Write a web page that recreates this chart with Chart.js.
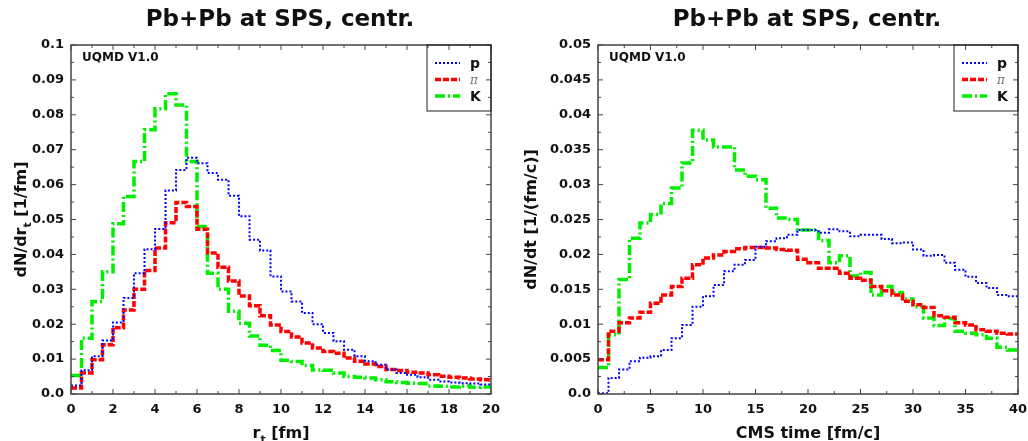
<!DOCTYPE html>
<html>
<head>
<meta charset="utf-8">
<script src="https://cdn.jsdelivr.net/npm/chart.js@4"></script>
<style>
  body { margin: 0; background: #fff; }
  .wrap { position: relative; width: 1028px; height: 441px; }
  canvas { position: absolute; top: 0; }
</style>
</head>
<body>
<div class="wrap">
  <canvas id="left" width="514" height="441" style="left:0;width:514px;height:441px"></canvas>
  <canvas id="right" width="514" height="441" style="left:514px;width:514px;height:441px"></canvas>
</div>
<script>
// left panel: transverse radius, 0.5 fm bins
const rBins = Array.from({ length: 40 }, (_, i) => i * 0.5);
const rProton = [0.0024, 0.0068, 0.0108, 0.0153, 0.0205, 0.0275, 0.0346, 0.0415, 0.0473, 0.0583,
  0.0642, 0.0677, 0.0661, 0.0633, 0.0614, 0.0568, 0.0509, 0.0442, 0.0411, 0.0337,
  0.0294, 0.0265, 0.0232, 0.0200, 0.0175, 0.0151, 0.0127, 0.0108, 0.0094, 0.0084,
  0.0070, 0.0060, 0.0055, 0.0048, 0.0041, 0.0036, 0.0033, 0.0031, 0.0030, 0.0027];
const rPion = [0.0017, 0.0060, 0.0098, 0.0141, 0.0190, 0.0241, 0.0300, 0.0354, 0.0418, 0.0491,
  0.0549, 0.0537, 0.0472, 0.0404, 0.0363, 0.0324, 0.0281, 0.0253, 0.0224, 0.0198,
  0.0179, 0.0163, 0.0146, 0.0132, 0.0122, 0.0117, 0.0103, 0.0094, 0.0086, 0.0079,
  0.0070, 0.0067, 0.0062, 0.0060, 0.0055, 0.0051, 0.0048, 0.0046, 0.0043, 0.0041];
const rKaon = [0.0053, 0.0160, 0.0265, 0.0350, 0.0488, 0.0566, 0.0666, 0.0757, 0.0817, 0.0860,
  0.0828, 0.0666, 0.0480, 0.0346, 0.0300, 0.0237, 0.0203, 0.0166, 0.0140, 0.0125,
  0.0097, 0.0093, 0.0082, 0.0069, 0.0068, 0.0060, 0.0050, 0.0048, 0.0046, 0.0041,
  0.0035, 0.0033, 0.0031, 0.0030, 0.0023, 0.0022, 0.0020, 0.0023, 0.0019, 0.0020];

// right panel: CMS time, 1 fm/c bins
const tBins = Array.from({ length: 40 }, (_, i) => i);
const tProton = [0.0001, 0.0023, 0.0035, 0.0047, 0.0052, 0.0054, 0.0063, 0.0080, 0.0099, 0.0125,
  0.0140, 0.0156, 0.0176, 0.0185, 0.0192, 0.0211, 0.0219, 0.0223, 0.0228, 0.0235,
  0.0235, 0.0231, 0.0236, 0.0233, 0.0226, 0.0228, 0.0228, 0.0222, 0.0216, 0.0217,
  0.0207, 0.0198, 0.0199, 0.0188, 0.0178, 0.0168, 0.0159, 0.0152, 0.0142, 0.0140];
const tPion = [0.0049, 0.0090, 0.0102, 0.0109, 0.0117, 0.0130, 0.0142, 0.0154, 0.0166, 0.0185,
  0.0195, 0.0199, 0.0204, 0.0208, 0.0210, 0.0210, 0.0209, 0.0207, 0.0206, 0.0193,
  0.0188, 0.0180, 0.0180, 0.0173, 0.0166, 0.0163, 0.0154, 0.0148, 0.0142, 0.0133,
  0.0128, 0.0124, 0.0112, 0.0110, 0.0102, 0.0099, 0.0092, 0.0090, 0.0087, 0.0086];
const tKaon = [0.0038, 0.0085, 0.0164, 0.0223, 0.0245, 0.0257, 0.0273, 0.0295, 0.0331, 0.0378,
  0.0364, 0.0354, 0.0354, 0.0321, 0.0312, 0.0307, 0.0266, 0.0252, 0.0250, 0.0235,
  0.0235, 0.0220, 0.0188, 0.0198, 0.0169, 0.0174, 0.0142, 0.0154, 0.0145, 0.0136,
  0.0125, 0.0109, 0.0098, 0.0108, 0.0090, 0.0087, 0.0085, 0.0080, 0.0067, 0.0063];

const FONT = 'DejaVu Sans';

// histogram as step line: left edges + closing point at the last right edge
function steps(bins, vals, width) {
  const pts = vals.map((v, i) => ({ x: bins[i], y: v }));
  pts.push({ x: bins[bins.length - 1] + width, y: vals[vals.length - 1] });
  return pts;
}

function seriesFor(bins, p, pi, k, w) {
  return [
    { label: 'p', data: steps(bins, p, w), borderColor: '#0000ff', borderWidth: 2, borderDash: [2, 2] },
    { label: 'π', data: steps(bins, pi, w), borderColor: '#ff0000', borderWidth: 3.5, borderDash: [6, 2] },
    { label: 'K', data: steps(bins, k, w), borderColor: '#00ee00', borderWidth: 3.5, borderDash: [10, 3, 2, 3] },
  ];
}

// text with optional subscript parts
function richWidth(ctx, parts, size) {
  let w = 0;
  parts.forEach(p => {
    ctx.font = 'bold ' + (p.sub ? Math.round(size * 0.7) : size) + 'px ' + FONT;
    w += ctx.measureText(p.t).width;
  });
  return w;
}
function drawRich(ctx, parts, size) {
  let x = -richWidth(ctx, parts, size) / 2;
  ctx.textBaseline = 'alphabetic';
  ctx.textAlign = 'left';
  parts.forEach(p => {
    ctx.font = 'bold ' + (p.sub ? Math.round(size * 0.7) : size) + 'px ' + FONT;
    ctx.fillText(p.t, x, p.sub ? size * 0.3 : 0);
    x += ctx.measureText(p.t).width;
  });
}

const decor = {
  id: 'decor',
  afterDatasetsDraw(chart, args, opts) {
    const { ctx, chartArea: a, scales } = chart;
    const xs = scales.x, ys = scales.y;
    ctx.save();
    ctx.strokeStyle = '#444';
    ctx.lineWidth = 1.5;
    ctx.strokeRect(a.left, a.top, a.right - a.left, a.bottom - a.top);

    // inside ticks on all four sides
    ctx.lineWidth = 1;
    ctx.beginPath();
    for (let v = xs.min; v <= xs.max + 1e-9; v += opts.xMinor) {
      const px = xs.getPixelForValue(v);
      const major = Math.abs(v / opts.xMajor - Math.round(v / opts.xMajor)) < 1e-6;
      const len = major ? 5 : 3;
      ctx.moveTo(px, a.bottom); ctx.lineTo(px, a.bottom - len);
      ctx.moveTo(px, a.top); ctx.lineTo(px, a.top + len);
    }
    for (let v = ys.min; v <= ys.max + 1e-9; v += opts.yMinor) {
      const py = ys.getPixelForValue(v);
      const major = Math.abs(v / opts.yMajor - Math.round(v / opts.yMajor)) < 1e-6;
      const len = major ? 5 : 3;
      ctx.moveTo(a.left, py); ctx.lineTo(a.left + len, py);
      ctx.moveTo(a.right, py); ctx.lineTo(a.right - len, py);
    }
    ctx.stroke();

    ctx.fillStyle = '#111';
    // main title
    ctx.font = 'bold 23px ' + FONT;
    ctx.textAlign = 'center';
    ctx.textBaseline = 'middle';
    ctx.fillText('Pb+Pb at SPS, centr.', (a.left + a.right) / 2 - 1, 20);

    // model label
    ctx.font = 'bold 12px ' + FONT;
    ctx.textAlign = 'left';
    ctx.fillText('UQMD V1.0', a.left + 11, a.top + 13);

    // legend box
    const lx = a.right - 64, ly = a.top;
    ctx.strokeStyle = '#222';
    ctx.lineWidth = 1;
    ctx.strokeRect(lx, ly, 64, 66);
    chart.data.datasets.forEach((ds, i) => {
      const y = ly + 18 + i * 16.5;
      ctx.save();
      ctx.strokeStyle = ds.borderColor;
      ctx.lineWidth = ds.borderWidth;
      ctx.setLineDash(ds.borderDash);
      ctx.beginPath();
      ctx.moveTo(lx + 8, y); ctx.lineTo(lx + 33, y);
      ctx.stroke();
      ctx.restore();
      if (ds.label === 'π') {
        ctx.fillStyle = '#777';
        ctx.font = 'italic 12px DejaVu Serif';
      } else {
        ctx.fillStyle = '#111';
        ctx.font = 'bold 14px ' + FONT;
      }
      ctx.textBaseline = 'middle';
      ctx.fillText(ds.label, lx + 43, y + 1);
    });

    // axis titles
    ctx.fillStyle = '#111';
    ctx.save();
    ctx.translate((a.left + a.right) / 2, 438);
    drawRich(ctx, opts.xTitle, 16);
    ctx.restore();
    ctx.save();
    ctx.translate(opts.yTitleX, (a.top + a.bottom) / 2);
    ctx.rotate(-Math.PI / 2);
    drawRich(ctx, opts.yTitle, 16);
    ctx.restore();
    ctx.restore();
  }
};

function makeChart(id, datasets, xMax, xStep, xMinor, yMax, yStep, yMinor, yWidth, padRight, xTitle, yTitle, yTitleX) {
  return new Chart(document.getElementById(id), {
    type: 'line',
    data: { datasets },
    plugins: [decor],
    options: {
      responsive: false,
      animation: false,
      devicePixelRatio: 1,
      layout: { padding: { top: 45, right: padRight, left: 0, bottom: 0 } },
      elements: { point: { radius: 0 }, line: { stepped: 'before', tension: 0 } },
      plugins: {
        legend: { display: false },
        title: { display: false },
        tooltip: { enabled: false },
        decor: { xMinor, xMajor: xStep, yMinor, yMajor: yStep, xTitle, yTitle, yTitleX },
      },
      scales: {
        x: {
          type: 'linear', min: 0, max: xMax,
          grid: { display: false, drawTicks: false },
          border: { display: false },
          ticks: { stepSize: xStep, padding: 8, color: '#111', maxRotation: 0, font: { family: FONT, size: 13, weight: 'bold' } },
          afterFit(s) { s.height = 47; s.paddingRight = 0; s.paddingLeft = 0; },
        },
        y: {
          min: 0, max: yMax,
          grid: { display: false, drawTicks: false },
          border: { display: false },
          ticks: {
            stepSize: yStep, padding: 7, color: '#111',
            font: { family: FONT, size: 13, weight: 'bold' },
            callback: v => v === 0 ? '0.0' : String(+v.toFixed(4)),
          },
          afterFit(s) { s.width = yWidth; s.paddingTop = 0; s.paddingBottom = 0; },
        },
      },
    },
  });
}

makeChart('left', seriesFor(rBins, rProton, rPion, rKaon, 0.5),
  20, 2, 1, 0.1, 0.01, 0.005, 71, 23,
  [{ t: 'r' }, { t: 't', sub: true }, { t: ' [fm]' }],
  [{ t: 'dN/dr' }, { t: 't', sub: true }, { t: ' [1/fm]' }], 26);

makeChart('right', seriesFor(tBins, tProton, tPion, tKaon, 1),
  40, 5, 2.5, 0.05, 0.005, 0.0025, 84, 10,
  [{ t: 'CMS time [fm/c]' }],
  [{ t: 'dN/dt [1/(fm/c)]' }], 22);
</script>
</body>
</html>
